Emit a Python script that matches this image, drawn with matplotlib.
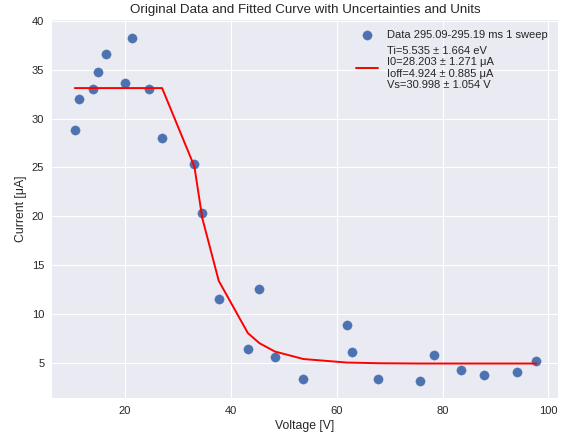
"""Langmuir probe sweep: data and fitted I-V curve"""

import matplotlib
matplotlib.use("Agg")
import matplotlib.pyplot as plt

voltage = [10.5, 11.3, 13.9, 14.8, 16.4, 20.05, 21.4, 24.6, 27.0, 33.1, 34.6,
           37.7, 43.2, 45.4, 48.3, 53.7, 61.9, 62.9, 67.8, 75.7, 78.3, 83.4,
           87.8, 94.0, 97.7]
current = [28.8, 32.05, 33.0, 34.8, 36.6, 33.6, 38.3, 33.0, 28.0, 25.4, 20.3,
           11.5, 6.43, 12.6, 5.58, 3.34, 8.85, 6.09, 3.34, 3.16, 5.85, 4.25,
           3.74, 4.08, 5.17]

# Fitted curve values at the same voltages
fit_current = [33.13, 33.13, 33.13, 33.13, 33.13, 33.13, 33.13, 33.13, 33.13,
               25.1, 19.8, 13.4, 8.05, 7.01, 6.16, 5.39, 5.03, 5.02, 4.96,
               4.93, 4.93, 4.93, 4.93, 4.93, 4.93]

data_label = "Data 295.09-295.19 ms 1 sweep"
fit_label = ("Ti=5.535 \u00b1 1.664 eV\n"
             "I0=28.203 \u00b1 1.271 \u03bcA\n"
             "Ioff=4.924 \u00b1 0.885 \u03bcA\n"
             "Vs=30.998 \u00b1 1.054 V")

plt.style.use("seaborn-v0_8")
plt.rcParams["font.family"] = ["Liberation Sans", "DejaVu Sans"]

fig, ax = plt.subplots(figsize=(567 / 80, 441 / 80), dpi=80)

ax.scatter(voltage, current, s=70, color="#4C72B0", label=data_label)
ax.plot(voltage, fit_current, "-", color="red", label=fit_label)

ax.set_xlim(6.2, 101.8)
ax.set_ylim(1.4, 40.1)
ax.set_xlabel("Voltage [V]")
ax.set_ylabel("Current [\u03bcA]")
ax.set_title("Original Data and Fitted Curve with Uncertainties and Units")
ax.legend(loc="upper right")

fig.subplots_adjust(left=52 / 567, right=558 / 567, bottom=1 - 398 / 441,
                    top=1 - 20 / 441)
fig.savefig("out.png", dpi=80)
